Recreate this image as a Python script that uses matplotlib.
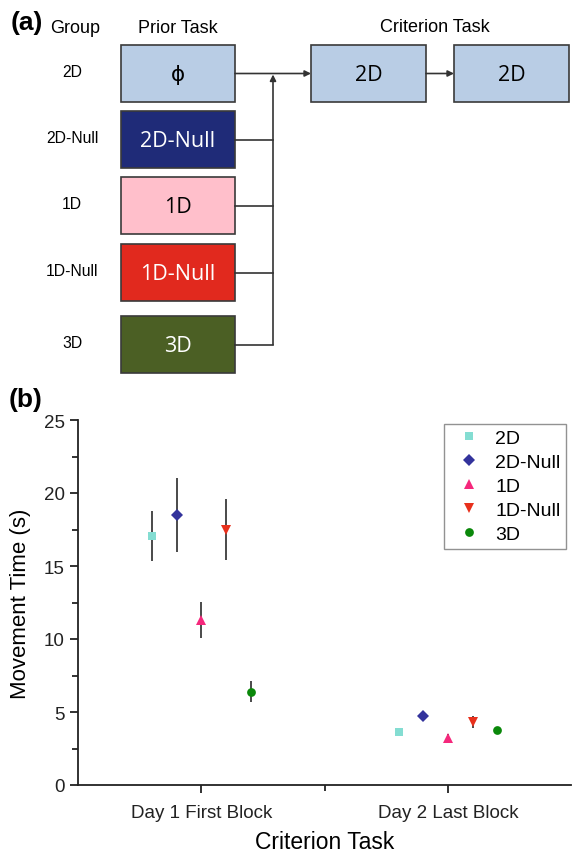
import matplotlib
matplotlib.use("Agg")
import matplotlib.pyplot as plt
from matplotlib.patches import Rectangle, FancyArrowPatch

# ---- data ----
groups = ["2D", "2D-Null", "1D", "1D-Null", "3D"]
prior_tasks = ["\u03d5", "2D-Null", "1D", "1D-Null", "3D"]
criterion_tasks = ["2D", "2D"]
blocks = ["Day 1 First Block", "Day 2 Last Block"]

day1_mean = [17.05, 18.5, 11.3, 17.5, 6.4]
day1_err = [1.7, 2.55, 1.25, 2.1, 0.7]
day2_mean = [3.65, 4.75, 3.2, 4.3, 3.75]
day2_err = [0.0, 0.0, 0.3, 0.4, 0.0]

# ---- styles ----
box_fill = ["#b9cde5", "#1f2b78", "#ffbfcb", "#e1291e", "#4b5f24"]
box_text = ["black", "white", "black", "white", "white"]
marker_col = ["#84ddd2", "#33339c", "#f5287c", "#e8301c", "#0a880a"]
marker_sym = ["s", "D", "^", "v", "o"]
marker_ms = [5.8, 6.0, 7.5, 7.5, 6.3]
offsets = [-0.2, -0.1, 0.0, 0.1, 0.2]

plt.rcParams["font.family"] = ["Liberation Sans", "DejaVu Sans"]

fig = plt.figure(figsize=(5.72, 8.53), dpi=100)

# ---- panel (a): flow diagram in pixel units ----
axd = fig.add_axes([0, 0, 1, 1], zorder=0)
axd.set_xlim(0, 572)
axd.set_ylim(853, 0)
axd.axis("off")

axd.text(11, 23, "(a)", fontsize=19, fontweight="bold", va="center", ha="left")
axd.text(75, 28, "Group", fontsize=13, va="center", ha="center")
axd.text(178, 28, "Prior Task", fontsize=13, va="center", ha="center")
axd.text(435, 27, "Criterion Task", fontsize=13, va="center", ha="center")

box_x0, box_x1 = 121, 235
box_tops = [46, 112, 178, 245, 317]
box_h = 57
join_x = 273
mids = []
for i, (g, t) in enumerate(zip(groups, prior_tasks)):
    y0 = box_tops[i]
    mid = y0 + box_h / 2
    mids.append(mid)
    axd.add_patch(Rectangle((box_x0, y0), box_x1 - box_x0, box_h,
                            facecolor=box_fill[i], edgecolor="#3a3a3a", lw=1.2))
    axd.text((box_x0 + box_x1) / 2, mid + 1, t, fontsize=15.5, color=box_text[i],
             ha="center", va="center", family=["Open Sans", "DejaVu Sans"])
    axd.text(72, mid - 2, g, fontsize=11.3, ha="center", va="center")
    if i > 0:
        axd.plot([box_x1, join_x], [mid, mid], color="#333333", lw=1.2)

# vertical joining line with arrow into the top row
axd.add_patch(FancyArrowPatch((join_x, mids[-1]), (join_x, mids[0] + 1),
                              arrowstyle="-|>", mutation_scale=9,
                              color="#333333", lw=1.2, shrinkA=0, shrinkB=0))

crit_x = [311, 454]
crit_w = 115
axd.add_patch(FancyArrowPatch((box_x1, mids[0]), (crit_x[0], mids[0]),
                              arrowstyle="-|>", mutation_scale=9,
                              color="#333333", lw=1.2, shrinkA=0, shrinkB=0))
for j, ct in enumerate(criterion_tasks):
    axd.add_patch(Rectangle((crit_x[j], box_tops[0]), crit_w, box_h,
                            facecolor=box_fill[0], edgecolor="#3a3a3a", lw=1.2))
    axd.text(crit_x[j] + crit_w / 2, mids[0] + 1, ct, fontsize=15.5,
             ha="center", va="center", family=["Open Sans", "DejaVu Sans"])
axd.add_patch(FancyArrowPatch((crit_x[0] + crit_w, mids[0]), (crit_x[1], mids[0]),
                              arrowstyle="-|>", mutation_scale=9,
                              color="#333333", lw=1.2, shrinkA=0, shrinkB=0))

axd.text(9, 400, "(b)", fontsize=19, fontweight="bold", va="center", ha="left")

# ---- panel (b): movement time ----
ax = fig.add_axes([78 / 572, 1 - 786 / 853, 1 - 78 / 572 - 0.001, (786 - 421) / 853],
                  zorder=1)
ax.patch.set_alpha(0)

for i, g in enumerate(groups):
    xs = [1 + offsets[i], 2 + offsets[i]]
    ys = [day1_mean[i], day2_mean[i]]
    es = [day1_err[i], day2_err[i]]
    ax.errorbar(xs, ys, yerr=es, fmt="none", ecolor="#4a4a4a", elinewidth=1.4,
                capsize=0, zorder=2)
    ax.plot(xs, ys, linestyle="none", marker=marker_sym[i], color=marker_col[i],
            markersize=marker_ms[i], markeredgewidth=0, label=g, zorder=3)

ax.set_xlim(0.5, 2.5)
ax.set_ylim(0, 25)
ax.set_xticks([1, 2])
ax.set_xticklabels(blocks)
ax.set_xticks([1.5], minor=True)
ax.set_yticks([0, 5, 10, 15, 20, 25])
ax.set_yticks([2.5, 7.5, 12.5, 17.5, 22.5], minor=True)
for s in ["top", "right"]:
    ax.spines[s].set_visible(False)
for s in ["left", "bottom"]:
    ax.spines[s].set_linewidth(1.3)
    ax.spines[s].set_color("#222222")
ax.tick_params(axis="both", which="major", direction="out", length=6, width=1.3,
               labelsize=13.5, colors="#222222")
ax.tick_params(axis="both", which="minor", direction="out", length=4, width=1.3,
               colors="#222222")
ax.tick_params(axis="x", pad=8)
ax.set_ylabel("Movement Time (s)", fontsize=16, labelpad=9)
ax.set_xlabel("Criterion Task", fontsize=16.5, labelpad=6)

leg = ax.legend(loc="upper right", bbox_to_anchor=(0.99, 0.99), borderaxespad=0,
                fontsize=14, frameon=True, fancybox=False, handlelength=2.0,
                handletextpad=0.35, labelspacing=0.33, borderpad=0.3,
                markerscale=1.0, numpoints=1)
leg.get_frame().set_edgecolor("#777777")
leg.get_frame().set_linewidth(1.0)

fig.savefig("out.png", dpi=100)
